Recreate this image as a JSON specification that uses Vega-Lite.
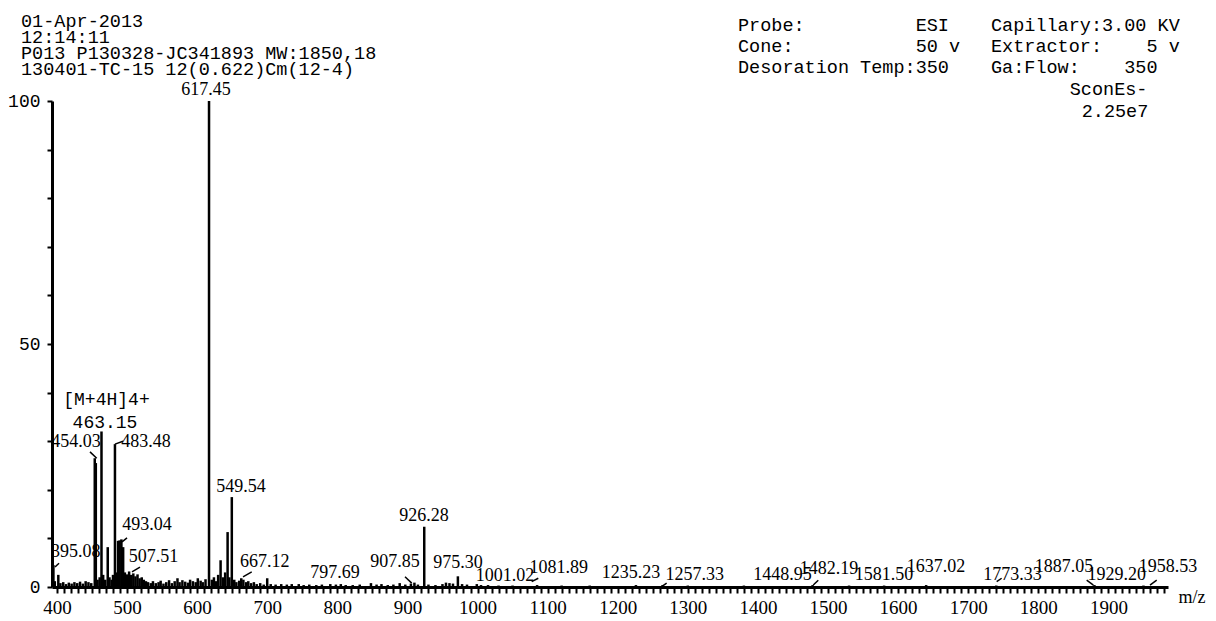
{
 "$schema": "https://vega.github.io/schema/vega-lite/v6.json",
 "width": 1116,
 "height": 486,
 "autosize": {"type": "none"},
 "padding": {"left": 52, "top": 101, "right": 48, "bottom": 34},
 "background": "white",
 "config": {"view": {"stroke": null}},
 "datasets": {
  "peaks": [
   {"mz":395,"i":4.5},{"mz":397,"i":1.2},{"mz":402,"i":2.5},{"mz":405,"i":0.8},{"mz":409,"i":1.0},{"mz":413,"i":0.6},{"mz":417,"i":0.9},{"mz":421,"i":0.7},{"mz":425,"i":1.0},{"mz":429,"i":0.8},{"mz":433,"i":1.1},{"mz":437,"i":0.7},{"mz":441,"i":1.2},{"mz":445,"i":1.0},{"mz":449,"i":0.8},
   {"mz":454.0,"i":26.5},{"mz":455.5,"i":25.5},{"mz":458,"i":1.5},{"mz":461,"i":2.0},{"mz":463.6,"i":32.0},{"mz":466,"i":2.5},{"mz":469,"i":1.5},{"mz":472.5,"i":8.2},{"mz":475,"i":2.0},{"mz":478,"i":1.5},{"mz":480,"i":2.5},{"mz":482.8,"i":29.4},{"mz":485,"i":3.0},
   {"mz":487.2,"i":9.5},{"mz":489.5,"i":9.6},{"mz":492,"i":9.8},{"mz":494.5,"i":8.2},{"mz":497,"i":3.0},{"mz":500,"i":2.6},{"mz":503,"i":3.2},{"mz":506,"i":2.5},{"mz":509,"i":2.8},{"mz":512,"i":2.2},{"mz":515,"i":2.6},{"mz":518,"i":1.8},{"mz":521,"i":2.0},{"mz":524,"i":1.5},{"mz":527,"i":1.2},{"mz":530,"i":1.0},{"mz":534,"i":0.8},{"mz":537,"i":1.2},{"mz":541,"i":0.8},{"mz":545,"i":1.0},{"mz":548,"i":1.3},{"mz":552,"i":0.7},{"mz":556,"i":1.0},{"mz":560,"i":1.4},{"mz":564,"i":0.8},{"mz":568,"i":1.2},{"mz":572,"i":1.8},{"mz":575,"i":1.0},{"mz":579,"i":1.4},{"mz":583,"i":1.1},{"mz":587,"i":0.9},{"mz":590,"i":1.5},{"mz":594,"i":1.2},{"mz":598,"i":1.0},{"mz":601,"i":1.8},{"mz":605,"i":1.3},{"mz":608,"i":1.0},{"mz":612,"i":1.6},
   {"mz":617.0,"i":100},{"mz":621,"i":1.5},{"mz":624,"i":2.0},{"mz":627,"i":1.2},{"mz":630,"i":2.5},{"mz":633.5,"i":5.5},{"mz":637,"i":2.0},{"mz":640,"i":3.0},{"mz":643.5,"i":11.3},{"mz":646,"i":2.0},{"mz":649.5,"i":18.5},{"mz":653,"i":1.5},{"mz":656,"i":1.0},{"mz":660,"i":1.3},{"mz":663,"i":1.8},{"mz":666,"i":1.5},{"mz":670,"i":1.0},{"mz":673,"i":1.2},{"mz":677,"i":0.8},{"mz":681,"i":1.0},{"mz":685,"i":0.6},{"mz":690,"i":0.8},{"mz":695,"i":0.5},{"mz":700,"i":1.8},
   {"mz":705,"i":0.6},{"mz":712,"i":0.5},{"mz":720,"i":0.6},{"mz":728,"i":0.5},{"mz":735,"i":0.6},{"mz":745,"i":0.6},{"mz":752,"i":0.4},{"mz":760,"i":0.5},{"mz":770,"i":0.4},{"mz":778,"i":0.5},{"mz":790,"i":0.6},{"mz":798,"i":0.5},{"mz":805,"i":0.6},{"mz":812,"i":0.4},{"mz":822,"i":0.4},{"mz":832,"i":0.5},{"mz":848,"i":0.8},{"mz":856,"i":0.5},{"mz":863,"i":0.6},{"mz":872,"i":0.4},{"mz":880,"i":0.5},{"mz":889,"i":0.8},{"mz":897,"i":0.5},{"mz":905,"i":0.7},{"mz":910,"i":0.9},{"mz":915,"i":0.5},
   {"mz":924,"i":12.4},{"mz":930,"i":0.5},{"mz":940,"i":0.4},{"mz":950,"i":0.6},{"mz":955,"i":0.9},{"mz":960,"i":0.8},{"mz":965,"i":0.7},{"mz":972,"i":2.2},{"mz":978,"i":0.6},{"mz":985,"i":0.5},{"mz":999,"i":0.6},{"mz":1005,"i":0.4},{"mz":1015,"i":0.4},{"mz":1030,"i":0.3},{"mz":1050,"i":0.3},{"mz":1085,"i":0.4},{"mz":1120,"i":0.3},{"mz":1160,"i":0.3},{"mz":1226,"i":0.4},{"mz":1264,"i":0.4},{"mz":1300,"i":0.3},{"mz":1380,"i":0.3},{"mz":1478,"i":0.4},{"mz":1530,"i":0.3},{"mz":1580,"i":0.3},{"mz":1640,"i":0.4},{"mz":1740,"i":0.3},{"mz":1880,"i":0.4},{"mz":1950,"i":0.3}
  ],
  "pointers": [
   {"mz":397.3,"i":4.1,"mz2":403,"i2":4.9},
   {"mz":447.2,"i":27.8,"mz2":456.8,"i2":26.5},
   {"mz":482.9,"i":29.4,"mz2":494.3,"i2":30.0},
   {"mz":492.9,"i":9.3,"mz2":500,"i2":10.1},
   {"mz":507.1,"i":3.1,"mz2":518.5,"i2":4.1},
   {"mz":665.5,"i":2.1,"mz2":677.9,"i2":3.1},
   {"mz":896.6,"i":2.1,"mz2":906.1,"i2":0.8},
   {"mz":1077.3,"i":1.1,"mz2":1086.7,"i2":1.8},
   {"mz":1262.7,"i":0.1,"mz2":1269.8,"i2":0.8},
   {"mz":1479,"i":0.4,"mz2":1486.1,"i2":1.4},
   {"mz":1740.6,"i":1.1,"mz2":1747.7,"i2":1.8},
   {"mz":1869,"i":1.4,"mz2":1878.5,"i2":0.4},
   {"mz":1959.3,"i":0.4,"mz2":1968.9,"i2":1.4}
  ],
  "labels": [
   {"mz":612.7,"i":102.3,"label":"617.45"},
   {"mz":427.2,"i":29.9,"label":"454.03"},
   {"mz":527.0,"i":29.9,"label":"483.48"},
   {"mz":528.5,"i":12.8,"label":"493.04"},
   {"mz":427.0,"i":7.3,"label":"395.08"},
   {"mz":537.8,"i":6.2,"label":"507.51"},
   {"mz":662.6,"i":20.5,"label":"549.54"},
   {"mz":696.4,"i":5.2,"label":"667.12"},
   {"mz":796.7,"i":2.8,"label":"797.69"},
   {"mz":882.3,"i":5.2,"label":"907.85"},
   {"mz":923.7,"i":14.6,"label":"926.28"},
   {"mz":972.2,"i":4.9,"label":"975.30"},
   {"mz":1039.2,"i":2.3,"label":"1001.02"},
   {"mz":1116,"i":3.9,"label":"1081.89"},
   {"mz":1219,"i":2.8,"label":"1235.23"},
   {"mz":1310,"i":2.5,"label":"1257.33"},
   {"mz":1435,"i":2.5,"label":"1448.95"},
   {"mz":1501.4,"i":3.8,"label":"1482.19"},
   {"mz":1580,"i":2.5,"label":"1581.50"},
   {"mz":1654,"i":4.2,"label":"1637.02"},
   {"mz":1763,"i":2.5,"label":"1773.33"},
   {"mz":1836.6,"i":4.2,"label":"1887.05"},
   {"mz":1911.8,"i":2.5,"label":"1929.20"},
   {"mz":1985,"i":4.2,"label":"1958.53"}
  ],
  "monolabels": [
   {"mz":470.7,"i":38.5,"label":"[M+4H]4+"},
   {"mz":468.6,"i":33.8,"label":"463.15"}
  ],
  "headerLeft": [
   {"mz":348.8,"i":115.2,"text":"01-Apr-2013\n12:14:11\nP013 P130328-JC341893 MW:1850,18\n130401-TC-15 12(0.622)Cm(12-4)"}
  ],
  "headerRight": [
   {"mz":1371.6,"i":114.4,"text":"Probe:\u00a0\u00a0\u00a0\u00a0\u00a0\u00a0\u00a0\u00a0\u00a0\u00a0ESI\nCone:\u00a0\u00a0\u00a0\u00a0\u00a0\u00a0\u00a0\u00a0\u00a0\u00a0\u00a050\u00a0v\nDesoration Temp:350"},
   {"mz":1732.5,"i":114.4,"text":"Capillary:3.00\u00a0KV\nExtractor:\u00a0\u00a0\u00a0\u00a05\u00a0v\nGa:Flow:\u00a0\u00a0\u00a0\u00a0350"},
   {"mz":1844.8,"i":101.2,"text":"SconEs-"},
   {"mz":1861.9,"i":96.7,"text":"2.25e7"}
  ]
 },
 "encoding": {
  "x": {"field": "mz", "type": "quantitative",
   "scale": {"domain": [393, 1985], "nice": false, "zero": false},
   "axis": {"title": "m/z", "titleFont": "Liberation Serif", "titleFontSize": 18, "titleFontWeight": "normal", "titleColor": "black", "titleAngle": 0, "titleAlign": "left", "titleBaseline": "middle", "titleX": 1126, "titleY": 10,
    "tickCount": 160, "format": "d", "labelExpr": "datum.value % 100 === 0 ? datum.label : ''", "labelOverlap": false, "labelFlush": false,
    "labelFont": "Liberation Serif", "labelFontSize": 19, "labelColor": "black", "labelPadding": 5,
    "tickSize": 6, "tickWidth": 2, "tickColor": "black", "domainColor": "black", "domainWidth": 3, "grid": false}},
  "y": {"field": "i", "type": "quantitative",
   "scale": {"domain": [0, 100], "nice": false},
   "axis": {"title": null, "values": [0,10,20,30,40,50,60,70,80,90,100], "labelExpr": "datum.value % 50 === 0 ? datum.label : ''", "labelOverlap": false, "labelFlush": false,
    "labelFont": "Liberation Mono", "labelFontSize": 18, "labelColor": "black", "labelPadding": 7,
    "tickSize": 5, "tickWidth": 2, "tickColor": "black", "domainColor": "black", "domainWidth": 3, "grid": false}}
 },
 "layer": [
  {"data": {"name": "peaks"}, "mark": {"type": "rule", "color": "black", "strokeWidth": 2.5}, "encoding": {"y2": {"datum": 0}}},
  {"data": {"name": "pointers"}, "mark": {"type": "rule", "color": "black", "strokeWidth": 1.5}, "encoding": {"x2": {"field": "mz2"}, "y2": {"field": "i2"}}},
  {"data": {"name": "labels"}, "mark": {"type": "text", "font": "Liberation Serif", "fontSize": 18, "color": "black", "align": "center", "baseline": "middle"}, "encoding": {"text": {"field": "label"}}},
  {"data": {"name": "monolabels"}, "mark": {"type": "text", "font": "Liberation Mono", "fontSize": 18, "color": "black", "align": "center", "baseline": "middle"}, "encoding": {"text": {"field": "label"}}},
  {"data": {"name": "headerLeft"}, "mark": {"type": "text", "font": "Liberation Mono", "fontSize": 18.5, "color": "black", "align": "left", "baseline": "alphabetic", "lineBreak": "\n", "lineHeight": 16}, "encoding": {"text": {"field": "text"}}},
  {"data": {"name": "headerRight"}, "mark": {"type": "text", "font": "Liberation Mono", "fontSize": 18.5, "color": "black", "align": "left", "baseline": "alphabetic", "lineBreak": "\n", "lineHeight": 21}, "encoding": {"text": {"field": "text"}}}
 ]
}
